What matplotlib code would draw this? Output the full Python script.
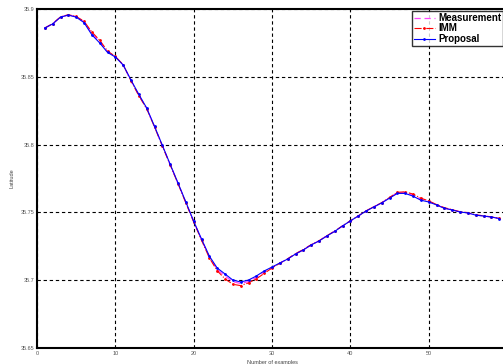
import numpy as np
import matplotlib
matplotlib.use("Agg")
import matplotlib.pyplot as plt

# sample index
samples = list(range(1, 60))

proposal = [35.8860, 35.8890, 35.8940, 35.8955, 35.8940, 35.8900, 35.8810, 35.8750,
            35.8680, 35.8646, 35.8587, 35.8476, 35.8370, 35.8270, 35.8135, 35.7995,
            35.7855, 35.7717, 35.7577, 35.7435, 35.7304, 35.7178, 35.7090, 35.7046,
            35.7001, 35.6987, 35.7001, 35.7031, 35.7068, 35.7097, 35.7127, 35.7156,
            35.7193, 35.7223, 35.7260, 35.7289, 35.7326, 35.7360, 35.7400, 35.7437,
            35.7473, 35.7510, 35.7540, 35.7570, 35.7605, 35.7640, 35.7640, 35.7620,
            35.7590, 35.7577, 35.7555, 35.7530, 35.7518, 35.7503, 35.7496, 35.7480,
            35.7473, 35.7466, 35.7455]

imm = [35.8860, 35.8892, 35.8942, 35.8958, 35.8945, 35.8910, 35.8830, 35.8770,
       35.8690, 35.8650, 35.8590, 35.8470, 35.8360, 35.8265, 35.8130, 35.7990,
       35.7850, 35.7712, 35.7570, 35.7430, 35.7295, 35.7165, 35.7070, 35.7010,
       35.6970, 35.6960, 35.6980, 35.7010, 35.7050, 35.7090, 35.7125, 35.7158,
       35.7196, 35.7226, 35.7262, 35.7291, 35.7328, 35.7362, 35.7401, 35.7438,
       35.7474, 35.7511, 35.7542, 35.7572, 35.7610, 35.7648, 35.7652, 35.7635,
       35.7605, 35.7585, 35.7558, 35.7535, 35.7520, 35.7505, 35.7498, 35.7482,
       35.7475, 35.7467, 35.7456]

measurement = [35.8860, 35.8891, 35.8941, 35.8956, 35.8943, 35.8905, 35.8820, 35.8760,
               35.8685, 35.8648, 35.8588, 35.8473, 35.8365, 35.8268, 35.8132, 35.7993,
               35.7852, 35.7715, 35.7574, 35.7433, 35.7300, 35.7172, 35.7080, 35.7030,
               35.6990, 35.6975, 35.6990, 35.7020, 35.7060, 35.7094, 35.7126, 35.7157,
               35.7194, 35.7224, 35.7261, 35.7290, 35.7327, 35.7361, 35.7400, 35.7437,
               35.7473, 35.7510, 35.7541, 35.7571, 35.7608, 35.7644, 35.7646, 35.7628,
               35.7598, 35.7581, 35.7556, 35.7532, 35.7519, 35.7504, 35.7497, 35.7481,
               35.7474, 35.7466, 35.7455]

xticks = [0, 10, 20, 30, 40, 50]
yticks = [35.65, 35.7, 35.75, 35.8, 35.85, 35.9]
ytick_labels = ["35.65", "35.7", "35.75", "35.8", "35.85", "35.9"]


def main():
    plt.rcParams['font.family'] = ['Liberation Sans', 'DejaVu Sans']
    fig = plt.figure(figsize=(5.03, 3.64), dpi=100)
    ax = fig.add_axes([37 / 503, 16 / 364, 470 / 503, 339 / 364])

    ax.plot(samples, measurement, color='#ff44ff', linestyle=(0, (5, 3)), lw=0.9,
            label='Measurement')
    ax.plot(samples, imm, color='red', linestyle='-.', lw=0.8, marker='.',
            markersize=2, label='IMM')
    ax.plot(samples, proposal, color='blue', linestyle='-', lw=0.8, marker='.',
            markersize=2, label='Proposal')

    ax.set_xlim(0, 60)
    ax.set_ylim(35.65, 35.9)
    ax.set_xticks(xticks)
    ax.set_yticks(yticks)
    ax.set_yticklabels(ytick_labels)
    ax.tick_params(labelsize=4, colors='#555555', length=0, pad=2)
    ax.grid(True, color='black', linestyle=(0, (3, 2.5)), lw=0.8)
    for s in ax.spines.values():
        s.set_linewidth(1.5)
        s.set_color('black')

    ax.set_xlabel('Number of examples', fontsize=4, color='#444444', labelpad=3)
    ax.set_ylabel('Latitude', fontsize=4, color='#444444', labelpad=4)

    leg = ax.legend(loc='upper right', bbox_to_anchor=(1.0, 1 - 11 / 364),
                    bbox_transform=fig.transFigure, fancybox=False,
                    prop={'size': 7, 'weight': 'bold'}, handlelength=2.2,
                    handletextpad=0.3, borderpad=0.2, labelspacing=0.05,
                    borderaxespad=0)
    leg.get_frame().set_edgecolor('black')
    leg.get_frame().set_linewidth(1.0)

    fig.savefig('out.png', dpi=100)


if __name__ == "__main__":
    main()
